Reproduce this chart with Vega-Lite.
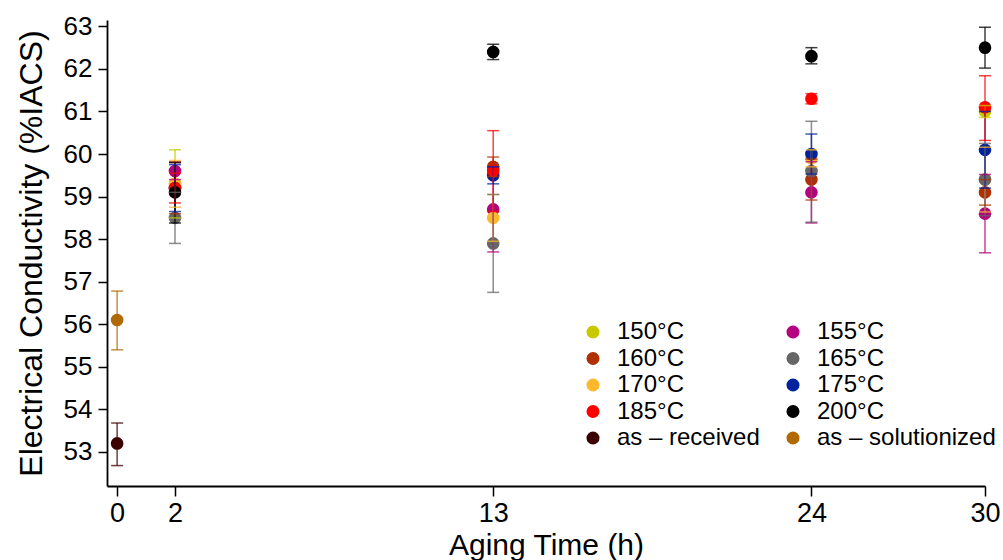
{
  "$schema": "https://vega.github.io/schema/vega-lite/v6.json",
  "width": 878,
  "height": 466,
  "autosize": {"type": "none"},
  "padding": {"left": 107, "top": 20, "right": 18, "bottom": 74},
  "config": {
    "view": {"stroke": null},
    "font": "Liberation Sans",
    "axis": {"grid": false, "domainColor": "#000", "tickColor": "#000", "labelColor": "#000", "titleColor": "#000", "domainWidth": 1.8, "tickWidth": 1.5, "labelFont": "Liberation Sans", "titleFont": "Liberation Sans", "titleFontWeight": "normal"},
    "axisY": {
      "values": [52.4, 52.6, 52.8, 53, 53.2, 53.4, 53.6, 53.8, 54, 54.2, 54.4, 54.6, 54.8, 55, 55.2, 55.4, 55.6, 55.8, 56, 56.2, 56.4, 56.6, 56.8, 57, 57.2, 57.4, 57.6, 57.8, 58, 58.2, 58.4, 58.6, 58.8, 59, 59.2, 59.4, 59.6, 59.8, 60, 60.2, 60.4, 60.6, 60.8, 61, 61.2, 61.4, 61.6, 61.8, 62, 62.2, 62.4, 62.6, 62.8, 63],
      "labelExpr": "abs(datum.value - round(datum.value)) < 0.01 ? format(datum.value, 'd') : ''",
      "labelFontSize": 26, "titleFontSize": 32, "labelPadding": 6, "titlePadding": 15
    }
  },
  "data": {
    "values": [
      {"series": "as – received", "time": 0, "value": 53.2, "lo": 52.68, "hi": 53.68},
      {"series": "as – solutionized", "time": 0, "value": 56.1, "lo": 55.4, "hi": 56.78},
      {"series": "150°C", "time": 2, "value": 59.3, "lo": 58.5, "hi": 60.1},
      {"series": "150°C", "time": 30, "value": 61.0, "lo": 60.86, "hi": 61.14},
      {"series": "160°C", "time": 2, "value": 59.2, "lo": 58.6, "hi": 59.82},
      {"series": "160°C", "time": 13, "value": 59.7, "lo": 59.47, "hi": 59.93},
      {"series": "160°C", "time": 24, "value": 59.4, "lo": 58.92, "hi": 59.88},
      {"series": "160°C", "time": 30, "value": 59.1, "lo": 58.8, "hi": 59.4},
      {"series": "155°C", "time": 2, "value": 59.6, "lo": 59.4, "hi": 59.8},
      {"series": "155°C", "time": 13, "value": 58.7, "lo": 57.7, "hi": 59.7},
      {"series": "155°C", "time": 24, "value": 59.1, "lo": 58.38, "hi": 59.82},
      {"series": "155°C", "time": 30, "value": 58.6, "lo": 57.68, "hi": 59.52},
      {"series": "170°C", "time": 2, "value": 59.3, "lo": 58.75, "hi": 59.85},
      {"series": "170°C", "time": 13, "value": 58.5, "lo": 57.95, "hi": 59.05},
      {"series": "170°C", "time": 24, "value": 59.9, "lo": 59.7, "hi": 60.1},
      {"series": "170°C", "time": 30, "value": 59.4, "lo": 58.64, "hi": 60.16},
      {"series": "165°C", "time": 2, "value": 58.5, "lo": 57.9, "hi": 59.1},
      {"series": "165°C", "time": 13, "value": 57.9, "lo": 56.75, "hi": 59.05},
      {"series": "165°C", "time": 24, "value": 59.6, "lo": 58.4, "hi": 60.77},
      {"series": "165°C", "time": 30, "value": 59.4, "lo": 58.55, "hi": 60.25},
      {"series": "175°C", "time": 2, "value": 59.2, "lo": 58.65, "hi": 59.75},
      {"series": "175°C", "time": 13, "value": 59.5, "lo": 59.3, "hi": 59.7},
      {"series": "175°C", "time": 24, "value": 60.0, "lo": 59.53, "hi": 60.47},
      {"series": "175°C", "time": 30, "value": 60.1, "lo": 59.2, "hi": 61.0},
      {"series": "185°C", "time": 2, "value": 59.2, "lo": 58.85, "hi": 59.55},
      {"series": "185°C", "time": 13, "value": 59.6, "lo": 58.65, "hi": 60.55},
      {"series": "185°C", "time": 24, "value": 61.3, "lo": 61.18, "hi": 61.42},
      {"series": "185°C", "time": 30, "value": 61.1, "lo": 60.32, "hi": 61.84},
      {"series": "200°C", "time": 2, "value": 59.1, "lo": 58.38, "hi": 59.8},
      {"series": "200°C", "time": 13, "value": 62.4, "lo": 62.22, "hi": 62.58},
      {"series": "200°C", "time": 24, "value": 62.3, "lo": 62.12, "hi": 62.5},
      {"series": "200°C", "time": 30, "value": 62.5, "lo": 62.02, "hi": 62.98}
    ]
  },
  "encoding": {
    "x": {
      "field": "time", "type": "quantitative",
      "scale": {"domain": [-0.35, 30], "nice": false, "zero": false},
      "axis": {"values": [0, 2, 13, 24, 30], "tickSize": 10, "labelFontSize": 27, "titleFontSize": 30, "labelPadding": 4, "titlePadding": 4, "title": "Aging Time (h)", "labelFlush": false}
    },
    "color": {
      "field": "series", "type": "nominal",
      "scale": {
        "domain": ["150°C", "160°C", "170°C", "185°C", "as – received", "155°C", "165°C", "175°C", "200°C", "as – solutionized"],
        "range": ["#c8c800", "#b03000", "#ffb72c", "#ff0000", "#3d0000", "#b5007f", "#666666", "#00229c", "#000000", "#b06a00"]
      },
      "legend": {
        "orient": "none", "legendX": 474, "legendY": 300, "columns": 2, "title": null,
        "symbolType": "circle", "symbolSize": 170, "symbolStrokeWidth": 0, "symbolOpacity": 1,
        "labelFontSize": 24, "labelColor": "#000", "labelFont": "Liberation Sans", "labelLimit": 400, "rowPadding": 2.5, "columnPadding": 21, "labelOffset": 12, "padding": 0
      }
    }
  },
  "layer": [
    {
      "mark": {"type": "point", "filled": true, "size": 160, "opacity": 1, "strokeWidth": 0},
      "encoding": {
        "y": {
          "field": "value", "type": "quantitative",
          "scale": {"domain": [52.2, 63.15], "nice": false, "zero": false},
          "axis": {"title": "Electrical Conductivity (%IACS)", "tickSize": {"condition": {"test": "abs(datum.value - round(datum.value)) < 0.01", "value": 9}, "value": 5}}
        }
      }
    },
    {
      "mark": {"type": "rule", "strokeWidth": 1.5, "opacity": 0.75},
      "encoding": {
        "y": {"field": "lo", "type": "quantitative", "axis": {"title": "Electrical Conductivity (%IACS)", "tickSize": {"condition": {"test": "abs(datum.value - round(datum.value)) < 0.01", "value": 9}, "value": 5}}},
        "y2": {"field": "hi"}
      }
    },
    {
      "mark": {"type": "tick", "orient": "horizontal", "size": 12, "thickness": 1.5, "opacity": 0.75},
      "encoding": {"y": {"field": "hi", "type": "quantitative", "axis": {"title": "Electrical Conductivity (%IACS)", "tickSize": {"condition": {"test": "abs(datum.value - round(datum.value)) < 0.01", "value": 9}, "value": 5}}}}
    },
    {
      "mark": {"type": "tick", "orient": "horizontal", "size": 12, "thickness": 1.5, "opacity": 0.75},
      "encoding": {"y": {"field": "lo", "type": "quantitative", "axis": {"title": "Electrical Conductivity (%IACS)", "tickSize": {"condition": {"test": "abs(datum.value - round(datum.value)) < 0.01", "value": 9}, "value": 5}}}}
    }
  ]
}
